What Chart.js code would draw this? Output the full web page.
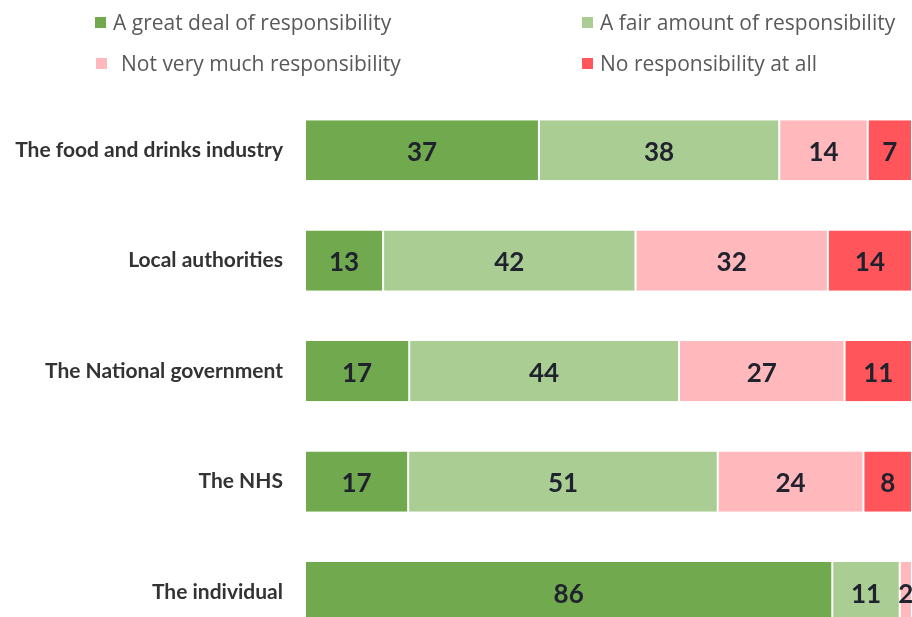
<!DOCTYPE html>
<html>
  <head>
    <meta charset="utf-8" />
    <title>Who is responsible</title>
    <script src="https://cdn.jsdelivr.net/npm/chart.js@4"></script>
    <style>
      body { margin: 0; width: 912px; height: 617px; overflow: hidden; background: #fff; position: relative; }
      #responsibilityCanvas { position: absolute; top: 0; left: 0; }
      #legend { position: absolute; top: 0; left: 0; width: 912px; font-family: "Open Sans", sans-serif; font-size: 21px; color: #595959; }
      .item { position: absolute; display: flex; align-items: center; white-space: nowrap; transform: translateY(-50%); }
      .box { width: 11px; height: 11px; margin-right: 7px; }
    </style>
  </head>
  <body>
    <!-- taller than the window: the last bar is cut off at the bottom like the original -->
    <canvas id="responsibilityCanvas" width="912" height="682"></canvas>
    <div id="legend"></div>
    <script>
      const categories = [
        "The food and drinks industry",
        "Local authorities",
        "The National government",
        "The NHS",
        "The individual",
      ];
      const seriesNames = [
        "A great deal of responsibility",
        "A fair amount of responsibility",
        "Not very much responsibility",
        "No responsibility at all",
      ];
      const greatDeal = [37, 13, 17, 17, 86];
      const fairAmount = [38, 42, 44, 51, 11];
      const notVeryMuch = [14, 32, 27, 24, 2];
      const noResponsibility = [7, 14, 11, 8, 0];
      const seriesColors = ["#70a94e", "#a9cd93", "#ffb9bc", "#ff555b"];

      const allSeries = [greatDeal, fairAmount, notVeryMuch, noResponsibility];
      // each bar is stretched to the full width (100%)
      const totals = categories.map((c, i) =>
        allSeries.reduce((sum, s) => sum + s[i], 0)
      );

      // legend, two columns
      const legendSpots = [
        { left: 95, top: 22 },
        { left: 582, top: 22 },
        { left: 96, top: 63, gap: 14 },
        { left: 582, top: 63 },
      ];
      const legend = document.getElementById("legend");
      seriesNames.forEach((name, i) => {
        const item = document.createElement("div");
        item.className = "item";
        item.style.left = legendSpots[i].left + "px";
        item.style.top = legendSpots[i].top + "px";
        const box = document.createElement("span");
        box.className = "box";
        box.style.background = seriesColors[i];
        if (legendSpots[i].gap) box.style.marginRight = legendSpots[i].gap + "px";
        const txt = document.createElement("span");
        txt.textContent = name;
        item.appendChild(box);
        item.appendChild(txt);
        legend.appendChild(item);
      });

      const barLabels = {
        id: "barLabels",
        afterDatasetsDraw(chart) {
          const ctx = chart.ctx;
          ctx.save();
          ctx.font = "bold 26px Lato";
          ctx.fillStyle = "#20222e";
          ctx.textAlign = "center";
          ctx.textBaseline = "middle";
          chart.data.datasets.forEach((ds, di) => {
            chart.getDatasetMeta(di).data.forEach((bar, i) => {
              const v = allSeries[di][i];
              if (!v) return;
              ctx.fillText(v, (bar.x + bar.base) / 2, bar.y + 2);
            });
          });
          ctx.restore();
        },
      };

      const ctx = document.getElementById("responsibilityCanvas").getContext("2d");
      const chart = new Chart(ctx, {
        type: "bar",
        data: {
          labels: categories,
          datasets: allSeries.map((s, di) => ({
            label: seriesNames[di],
            data: s.map((v, i) => (v / totals[i]) * 100),
            backgroundColor: seriesColors[di],
            borderColor: "#ffffff",
            borderWidth: { left: 1, right: 1, top: 0, bottom: 0 },
            borderSkipped: false,
            categoryPercentage: 1,
            barPercentage: 0.545,
          })),
        },
        options: {
          indexAxis: "y",
          responsive: false,
          animation: false,
          layout: { padding: { top: 95, bottom: 3, left: 0, right: 0 } },
          plugins: {
            legend: { display: false },
            tooltip: { enabled: false },
          },
          scales: {
            x: { stacked: true, min: 0, max: 100, display: false },
            y: {
              stacked: true,
              grid: { display: false, drawTicks: false },
              border: { display: false },
              ticks: {
                color: "#333333",
                padding: 22,
                font: { family: "Lato", size: 21, weight: "bold" },
              },
              afterFit(scale) {
                scale.width = 305;
              },
            },
          },
        },
        plugins: [barLabels],
      });
    </script>
  </body>
</html>
